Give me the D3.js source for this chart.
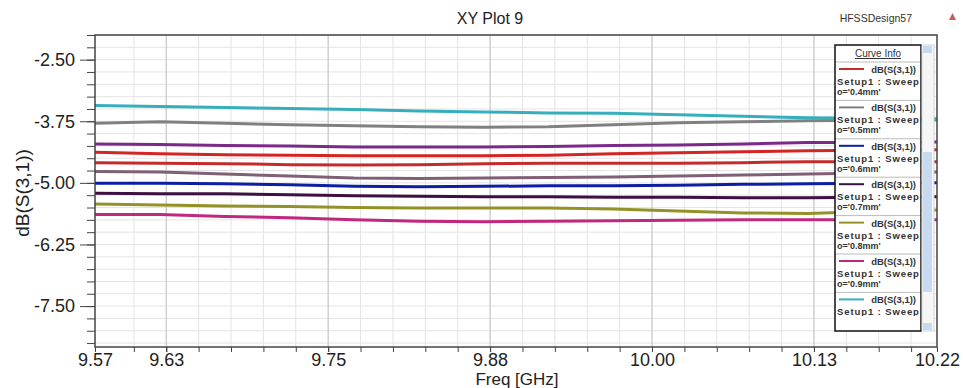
<!DOCTYPE html>
<html>
<head>
<meta charset="utf-8">
<script src="https://cdn.jsdelivr.net/npm/d3@7"></script>
<style>
  body { margin: 0; background: #fff; }
  svg { display: block; font-family: "Liberation Sans", Arial, sans-serif; }
</style>
</head>
<body>
<div id="chart"></div>
<script>
// sweep points (GHz) and dB(S(3,1)) per curve
let freqGHz = [9.57, 9.62, 9.67, 9.72, 9.77, 9.82, 9.87, 9.92, 9.97, 10.02, 10.07, 10.12, 10.17, 10.22]
let o_01mm = [-4.21, -4.22, -4.24, -4.25, -4.27, -4.27, -4.27, -4.26, -4.24, -4.23, -4.21, -4.18, -4.18, -4.17]
let o_02mm = [-4.38, -4.41, -4.43, -4.44, -4.45, -4.45, -4.45, -4.44, -4.41, -4.39, -4.37, -4.35, -4.34, -4.33]
let o_03mm = [-4.77, -4.78, -4.82, -4.86, -4.90, -4.91, -4.90, -4.89, -4.88, -4.86, -4.84, -4.82, -4.80, -4.78]
let o_04mm = [-4.59, -4.60, -4.61, -4.63, -4.64, -4.63, -4.61, -4.60, -4.60, -4.60, -4.59, -4.57, -4.57, -4.57]
let o_05mm = [-3.79, -3.76, -3.79, -3.82, -3.84, -3.86, -3.87, -3.86, -3.82, -3.78, -3.76, -3.74, -3.73, -3.72]
let o_06mm = [-5.01, -5.01, -5.02, -5.04, -5.07, -5.08, -5.07, -5.06, -5.06, -5.05, -5.03, -5.02, -5.01, -5.00]
let o_07mm = [-5.21, -5.22, -5.22, -5.24, -5.26, -5.27, -5.28, -5.28, -5.29, -5.29, -5.30, -5.30, -5.29, -5.28]
let o_08mm = [-5.43, -5.45, -5.47, -5.48, -5.50, -5.51, -5.51, -5.51, -5.53, -5.57, -5.61, -5.62, -5.58, -5.55]
let o_09mm = [-5.64, -5.64, -5.68, -5.71, -5.75, -5.78, -5.79, -5.78, -5.77, -5.76, -5.75, -5.75, -5.75, -5.75]
let o_10mm = [-3.43, -3.45, -3.47, -3.49, -3.51, -3.54, -3.56, -3.58, -3.59, -3.62, -3.65, -3.68, -3.69, -3.70]

let curveNames = ["o='0.1mm'", "o='0.2mm'", "o='0.3mm'", "o='0.4mm'", "o='0.5mm'",
  "o='0.6mm'", "o='0.7mm'", "o='0.8mm'", "o='0.9mm'", "o='1.0mm'"]
let curveValues = [o_01mm, o_02mm, o_03mm, o_04mm, o_05mm, o_06mm, o_07mm, o_08mm, o_09mm, o_10mm]
let curveColors = ["#7b2a8a", "#d42424", "#806077", "#c42c2c", "#808080",
  "#0c1ea6", "#3e0f42", "#929228", "#c0287e", "#36aebb"]

let xTicks = [9.57, 9.625, 9.75, 9.875, 10.0, 10.125, 10.22]
let xTickLabels = ["9.57", "9.63", "9.75", "9.88", "10.00", "10.13", "10.22"]
let yTicks = [-7.5, -6.25, -5.0, -3.75, -2.5]
let yTickLabels = ["-7.50", "-6.25", "-5.00", "-3.75", "-2.50"]

let margin = { top: 35, right: 26, bottom: 41, left: 95 }
let dims = {
  width: 963 - margin.left - margin.right,
  height: 388 - margin.top - margin.bottom
}

const svg = d3.select("#chart")
  .append("svg")
  .attr("width", 963)
  .attr("height", 388)

const plot = svg.append("g")
  .attr("transform", `translate(${margin.left},${margin.top})`)

let x = d3.scaleLinear().domain([9.57, 10.22]).range([0, dims.width])
let y = d3.scaleLinear().domain([-8.33, -2.0]).range([dims.height, 0])

let xMinor = d3.range(9.6, 10.21, 0.025)
let yMinor = d3.range(-8.25, -1.99, 0.25)

// grid
plot.append("g").selectAll("line")
  .data(xMinor)
  .join("line")
  .attr("x1", d => x(d)).attr("x2", d => x(d))
  .attr("y1", 0).attr("y2", dims.height)
  .attr("stroke", "#e4e4e4")
plot.append("g").selectAll("line")
  .data(yMinor)
  .join("line")
  .attr("x1", 0).attr("x2", dims.width)
  .attr("y1", d => y(d)).attr("y2", d => y(d))
  .attr("stroke", "#e4e4e4")
plot.append("g").selectAll("line")
  .data(xTicks.slice(1, -1))
  .join("line")
  .attr("x1", d => x(d)).attr("x2", d => x(d))
  .attr("y1", 0).attr("y2", dims.height)
  .attr("stroke", "#c4c4c4")

plot.append("clipPath").attr("id", "clip")
  .append("rect").attr("width", dims.width).attr("height", dims.height)

let line = d3.line()
  .x((d, i) => x(freqGHz[i]))
  .y(d => y(d))

plot.append("g")
  .attr("clip-path", "url(#clip)")
  .selectAll("path")
  .data(curveValues)
  .join("path")
  .attr("d", d => line(d))
  .attr("fill", "none")
  .attr("stroke", (d, i) => curveColors[i])
  .attr("stroke-width", 3)

// axes
let xAxisMinor = plot.append("g")
  .attr("transform", `translate(0,${dims.height})`)
  .call(d3.axisBottom(x).tickValues(xMinor).tickSize(5).tickFormat(""))
let xAxis = plot.append("g")
  .attr("transform", `translate(0,${dims.height})`)
  .call(d3.axisBottom(x).tickValues(xTicks).tickSize(5).tickPadding(1)
    .tickFormat((d, i) => xTickLabels[i]))
let yAxisMinor = plot.append("g")
  .call(d3.axisLeft(y).tickValues(yMinor).tickSize(8).tickFormat(""))
let yAxis = plot.append("g")
  .call(d3.axisLeft(y).tickValues(yTicks).tickSize(15).tickPadding(5)
    .tickFormat((d, i) => yTickLabels[i]))

plot.selectAll(".domain").remove()
plot.selectAll(".tick line").attr("stroke", "#444")
plot.selectAll(".tick text")
  .attr("font-family", "'Liberation Sans', Arial, sans-serif")
  .attr("font-size", 18)
  .attr("fill", "#222")

plot.append("rect")
  .attr("width", dims.width)
  .attr("height", dims.height)
  .attr("fill", "none")
  .attr("stroke", "#444")
  .attr("stroke-width", 1.5)

// titles
svg.append("text")
  .attr("x", 490).attr("y", 24)
  .attr("text-anchor", "middle")
  .attr("font-size", 16)
  .attr("fill", "#222")
  .text("XY Plot 9")
svg.append("text")
  .attr("x", 912).attr("y", 22)
  .attr("text-anchor", "end")
  .attr("font-size", 10.5)
  .attr("fill", "#333")
  .text("HFSSDesign57")
svg.append("path")
  .attr("d", "M949,20 L952.5,13 L956,20 Z")
  .attr("fill", "#c85a5a")
svg.append("text")
  .attr("x", 517).attr("y", 385)
  .attr("text-anchor", "middle")
  .attr("font-size", 17)
  .attr("fill", "#222")
  .text("Freq [GHz]")
svg.append("text")
  .attr("transform", "translate(29,193) rotate(-90)")
  .attr("text-anchor", "middle")
  .attr("font-size", 19)
  .attr("fill", "#222")
  .text("dB(S(3,1))")

// legend (Curve Info), scrolled so that 0.4mm is first
let legendStart = 3
let lg = { x: 835, y: 45, w: 86, h: 286, head: 17, row: 38.4 }
const legend = svg.append("g")
legend.append("rect")
  .attr("x", lg.x).attr("y", lg.y).attr("width", lg.w).attr("height", lg.h)
  .attr("fill", "#fff")
legend.append("clipPath").attr("id", "lgclip")
  .append("rect").attr("x", lg.x).attr("y", lg.y).attr("width", lg.w).attr("height", lg.h - 15)
legend.append("text")
  .attr("x", lg.x + lg.w / 2).attr("y", lg.y + 12)
  .attr("text-anchor", "middle")
  .attr("font-size", 10)
  .attr("fill", "#333")
  .attr("text-decoration", "underline")
  .text("Curve Info")

let rows = legend.append("g").attr("clip-path", "url(#lgclip)")
  .selectAll("g")
  .data(curveNames.slice(legendStart))
  .join("g")
  .attr("transform", (d, i) => `translate(${lg.x},${lg.y + lg.head + i * lg.row})`)
rows.append("line")
  .attr("x1", 0).attr("x2", lg.w).attr("y1", 0).attr("y2", 0)
  .attr("stroke", "#bbb")
rows.append("line")
  .attr("x1", 4).attr("x2", 29).attr("y1", 7).attr("y2", 7)
  .attr("stroke", (d, i) => curveColors[i + legendStart])
  .attr("stroke-width", 2)
rows.append("text")
  .attr("x", lg.w - 5).attr("y", 11)
  .attr("text-anchor", "end")
  .attr("font-size", 9.5).attr("font-weight", "bold").attr("fill", "#333")
  .text("dB(S(3,1))")
rows.append("text")
  .attr("x", 2).attr("y", 23)
  .attr("font-size", 9.5).attr("font-weight", "bold").attr("fill", "#333")
  .attr("letter-spacing", 0.9)
  .text("Setup1 : Sweep")
rows.append("text")
  .attr("x", 2).attr("y", 33)
  .attr("font-size", 9).attr("font-weight", "bold").attr("fill", "#333")
  .text(d => d)

legend.append("rect")
  .attr("x", lg.x).attr("y", lg.y).attr("width", lg.w).attr("height", lg.h)
  .attr("fill", "none")
  .attr("stroke", "#111")
  .attr("stroke-width", 1.5)

// scrollbar
legend.append("rect")
  .attr("x", lg.x + lg.w + 1).attr("y", lg.y).attr("width", 12).attr("height", lg.h)
  .attr("fill", "#f6f6f6").attr("stroke", "#d6d6d6")
legend.append("rect")
  .attr("x", lg.x + lg.w + 2).attr("y", 152).attr("width", 9).attr("height", 140)
  .attr("fill", "#c6dbf1")
legend.append("rect")
  .attr("x", lg.x + lg.w + 2).attr("y", lg.y + 1).attr("width", 9).attr("height", 7)
  .attr("fill", "#c6dbf1")
legend.append("rect")
  .attr("x", lg.x + lg.w + 2).attr("y", lg.y + lg.h - 8).attr("width", 9).attr("height", 7)
  .attr("fill", "#c6dbf1")
</script>
</body>
</html>
